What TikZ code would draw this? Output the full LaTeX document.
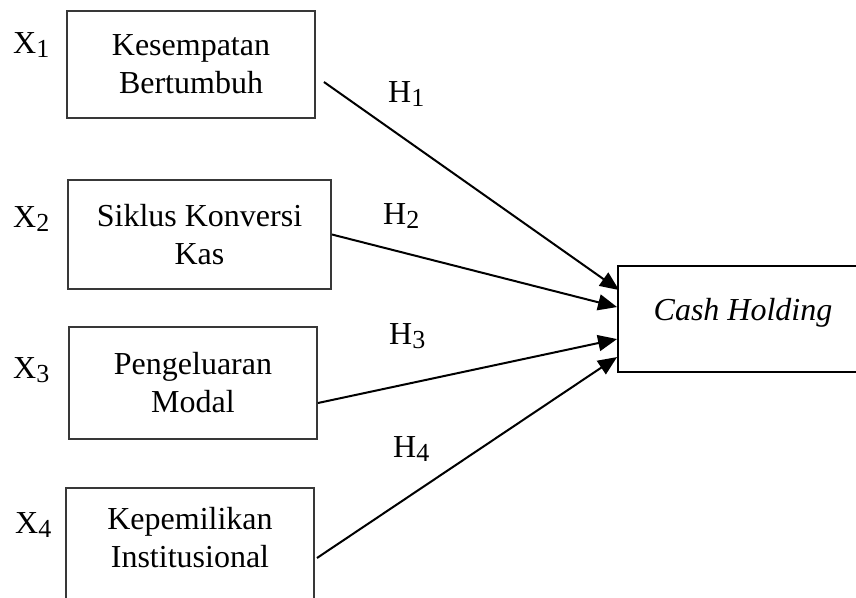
\documentclass[tikz,border=0pt]{standalone}
\usepackage{fontspec}
\setmainfont{Liberation Serif}
\usetikzlibrary{arrows.meta}
\newcommand\lowsub[1]{{\fontsize{26}{26}\selectfont\raisebox{-4.5pt}{#1}}}
\tikzset{
  varbox/.style={draw=black!78, line width=1.9pt, inner sep=0pt, align=center,
    font=\fontsize{32}{38}\selectfont},
  vartext/.style={inner sep=0pt, align=center, font=\fontsize{32}{38}\selectfont},
  lbl/.style={inner sep=0pt, anchor=base west, font=\fontsize{32}{38}\selectfont},
  link/.style={line width=2pt, -{Triangle[length=19pt,width=16pt]}}
}
\begin{document}
\begin{tikzpicture}[x=1pt,y=-1pt]
\clip (0,0) rectangle (856,597);
\fill[white] (0,0) rectangle (856,597);
% boxes
\node[varbox, minimum width=248pt, minimum height=107pt] (b1) at (191,64.5) {Kesempatan\\Bertumbuh};
\node[varbox, minimum width=263pt, minimum height=109pt] (b2) at (199.5,234.5) {Siklus Konversi\\Kas};
\node[varbox, minimum width=248pt, minimum height=112pt] (b3) at (193,383) {Pengeluaran\\Modal};
\node[varbox, minimum width=248pt, minimum height=132pt] (b4) at (190,554) {};
\node[vartext] (t4) at (190,538) {Kepemilikan\\Institusional};
\node[varbox, draw=black, minimum width=260pt, minimum height=106pt] (cash) at (748,319) {};
\node[vartext] (ct) at (743,313) {\itshape Cash Holding};
% variable labels
\node[lbl] (x1) at (13,53) {X\lowsub{1}};
\node[lbl] (x2) at (13,227) {X\lowsub{2}};
\node[lbl] (x3) at (13,378) {X\lowsub{3}};
\node[lbl] (x4) at (15,533) {X\lowsub{4}};
% hypothesis labels
\node[lbl] (h1) at (388,102) {H\lowsub{1}};
\node[lbl] (h2) at (383,224) {H\lowsub{2}};
\node[lbl] (h3) at (389,344) {H\lowsub{3}};
\node[lbl] (h4) at (393,457) {H\lowsub{4}};
% connectors
\draw[link] ([xshift=8pt,yshift=-17.5pt]b1.east) -- ([xshift=2pt,yshift=-25pt]cash.north west);
\draw[link] (b2.east) -- ([yshift=-42pt]cash.north west);
\draw[link] ([yshift=-20pt]b3.east) -- ([yshift=-74pt]cash.north west);
\draw[link] ([xshift=2pt,yshift=-4pt]b4.east) -- ([yshift=-92pt]cash.north west);
\end{tikzpicture}
\end{document}
